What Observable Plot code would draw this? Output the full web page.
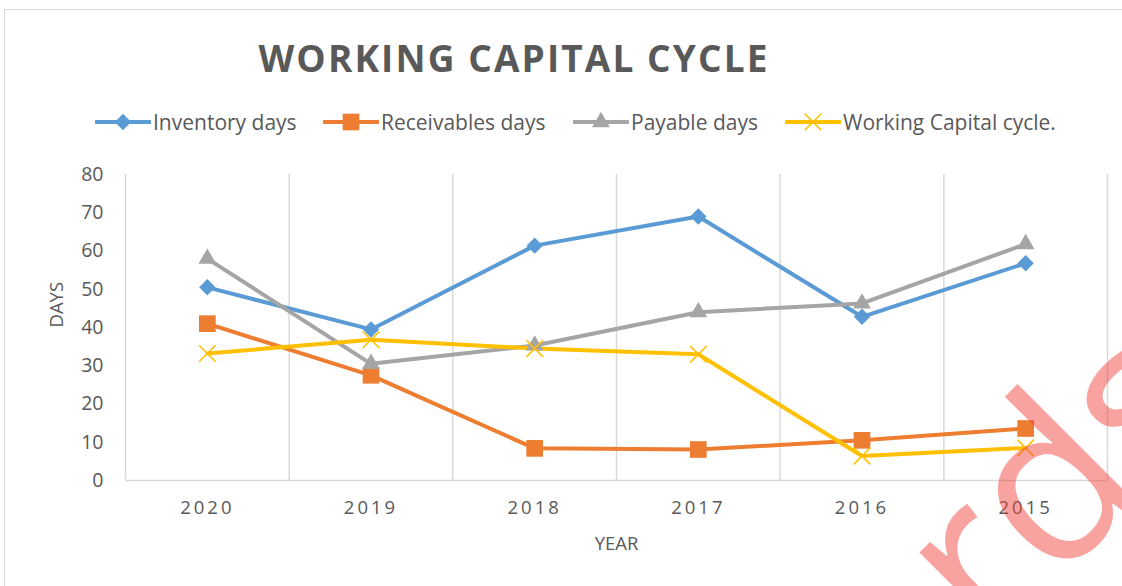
<!DOCTYPE html>
<html>
<head>
<meta charset="utf-8">
<script src="https://cdn.jsdelivr.net/npm/d3@7"></script>
<script src="https://cdn.jsdelivr.net/npm/@observablehq/plot@0.6"></script>
<style>
  html, body { margin: 0; padding: 0; background: #fff; }
  body { width: 1122px; height: 586px; position: relative; overflow: hidden; font-family: "Open Sans", sans-serif; color: #595959; }
  #frame { position: absolute; left: 4px; top: 9px; width: 1200px; height: 700px; border: 1.5px solid #d9d9d9; box-sizing: border-box; }
  #header { position: relative; height: 150px; }
  #title { position: absolute; left: 0; width: 1028px; top: 35px; text-align: center; font-weight: 700; font-size: 37px; letter-spacing: 2.1px; line-height: 46px; color: #595959; }
  .leg { position: absolute; top: 109px; height: 26px; display: flex; align-items: center; font-size: 21px; color: #595959; white-space: nowrap; }
  .leg svg { margin-right: 2px; }
  #chart { position: relative; }
  .xt text { letter-spacing: 3px; }
  #wm { position: absolute; left: 0; top: 0; pointer-events: none; }
</style>
</head>
<body>
<div id="frame"></div>
<div id="header">
  <div id="title">WORKING CAPITAL CYCLE</div>
</div>
<div id="chart"></div>
<svg id="wm" width="1122" height="586"></svg>
<script>
// ---- data ----
const years = ["2020", "2019", "2018", "2017", "2016", "2015"];
const inventoryDays = [50.5, 39.5, 61.4, 69.0, 42.8, 56.8];
const receivablesDays = [41.0, 27.5, 8.4, 8.1, 10.5, 13.6];
const payableDays = [58.0, 30.5, 35.3, 44.0, 46.3, 61.8];
const workingCapitalCycle = [33.2, 36.8, 34.5, 33.0, 6.4, 8.5];
const seriesNames = ["Inventory days", "Receivables days", "Payable days", "Working Capital cycle."];
const seriesColors = ["#5B9BD5", "#ED7D31", "#A5A5A5", "#FFC000"];
const yTicks = [0, 10, 20, 30, 40, 50, 60, 70, 80];
const yLabel = "DAYS";
const xLabel = "YEAR";

const seriesValues = [inventoryDays, receivablesDays, payableDays, workingCapitalCycle];
const rows = [];
seriesValues.forEach((vals, s) => vals.forEach((v, i) => rows.push({s, name: seriesNames[s], i, year: years[i], v})));

const symbolSpec = [
  {symbol: "diamond2", r: 7.4, fill: true},
  {symbol: "square", r: 9.4, fill: true},
  {symbol: "triangle", r: 6.6, fill: true},
  {symbol: "times", r: 7.6, fill: false}
];

// ---- legend ----
const header = document.getElementById("header");
const legX = [95, 323, 573, 785];
const d3sym = [d3.symbolDiamond2, d3.symbolSquare, d3.symbolTriangle, d3.symbolTimes];
seriesNames.forEach((name, s) => {
  const div = document.createElement("div");
  div.className = "leg";
  div.style.left = legX[s] + "px";
  const sp = symbolSpec[s];
  const size = Math.PI * sp.r * sp.r;
  const path = d3.symbol(d3sym[s], size)();
  div.innerHTML = `<svg width="56" height="26"><line x1="1" x2="55" y1="13" y2="13" stroke="${seriesColors[s]}" stroke-width="4" stroke-linecap="round"/>` +
    `<path transform="translate(28,13)" d="${path}" fill="${sp.fill ? seriesColors[s] : "none"}" stroke="${seriesColors[s]}" stroke-width="${sp.fill ? 0 : 1.6}"/></svg><span>${name}</span>`;
  header.appendChild(div);
});

// ---- chart ----
const gridPos = d3.range(years.length + 1).map(i => i - 0.5);
const marks = [
  Plot.ruleX(gridPos, {y1: 0, y2: 80, stroke: "#d9d9d9", strokeWidth: 1.5}),
  Plot.ruleY([0], {stroke: "#d9d9d9", strokeWidth: 1.5}),
  Plot.axisY({ticks: yTicks, tickSize: 0, tickPadding: 22, fontSize: 19.5, fill: "#595959", label: null}),
  Plot.axisX({ticks: d3.range(years.length), tickFormat: i => years[i], tickSize: 0, tickPadding: 20, fontSize: 18.5, fill: "#595959", label: null, className: "xt"}),
  Plot.text([yLabel], {frameAnchor: "left", dx: -68, rotate: -90, fontSize: 18.5, fill: "#595959", text: d => d}),
  Plot.text([xLabel], {frameAnchor: "bottom", dy: 69, fontSize: 18.5, fill: "#595959", text: d => d})
];
seriesNames.forEach((name, s) => {
  const data = rows.filter(r => r.s === s);
  marks.push(Plot.line(data, {x: "i", y: "v", stroke: seriesColors[s], strokeWidth: 4, strokeLinejoin: "round", strokeLinecap: "round"}));
});
seriesNames.forEach((name, s) => {
  const data = rows.filter(r => r.s === s);
  const sp = symbolSpec[s];
  marks.push(Plot.dot(data, sp.fill
    ? {x: "i", y: "v", symbol: () => sp.symbol, r: sp.r, fill: seriesColors[s], stroke: "none"}
    : {x: "i", y: "v", symbol: () => sp.symbol, r: sp.r, stroke: seriesColors[s], strokeWidth: 1.6, fill: "none"}));
});

const chart = Plot.plot({
  width: 1122,
  height: 436,
  marginTop: 24,
  marginBottom: 106,
  marginLeft: 125,
  marginRight: 15,
  style: {fontFamily: "'Open Sans', sans-serif", color: "#595959", background: "transparent", overflow: "visible"},
  x: {type: "linear", domain: [-0.5, years.length - 0.5], axis: null},
  y: {domain: [0, 80], axis: null},
  symbol: {type: "identity"},
  marks
});
document.getElementById("chart").appendChild(chart);

// ---- watermark ----
const wm = d3.select("#wm");
wm.append("text")
  .attr("transform", "translate(990,650) rotate(-45)")
  .attr("font-family", "'Open Sans', sans-serif")
  .attr("font-size", 222)
  .attr("fill", "rgb(240,60,50)")
  .attr("fill-opacity", 0.47)
  .text("rds");
</script>
</body>
</html>
